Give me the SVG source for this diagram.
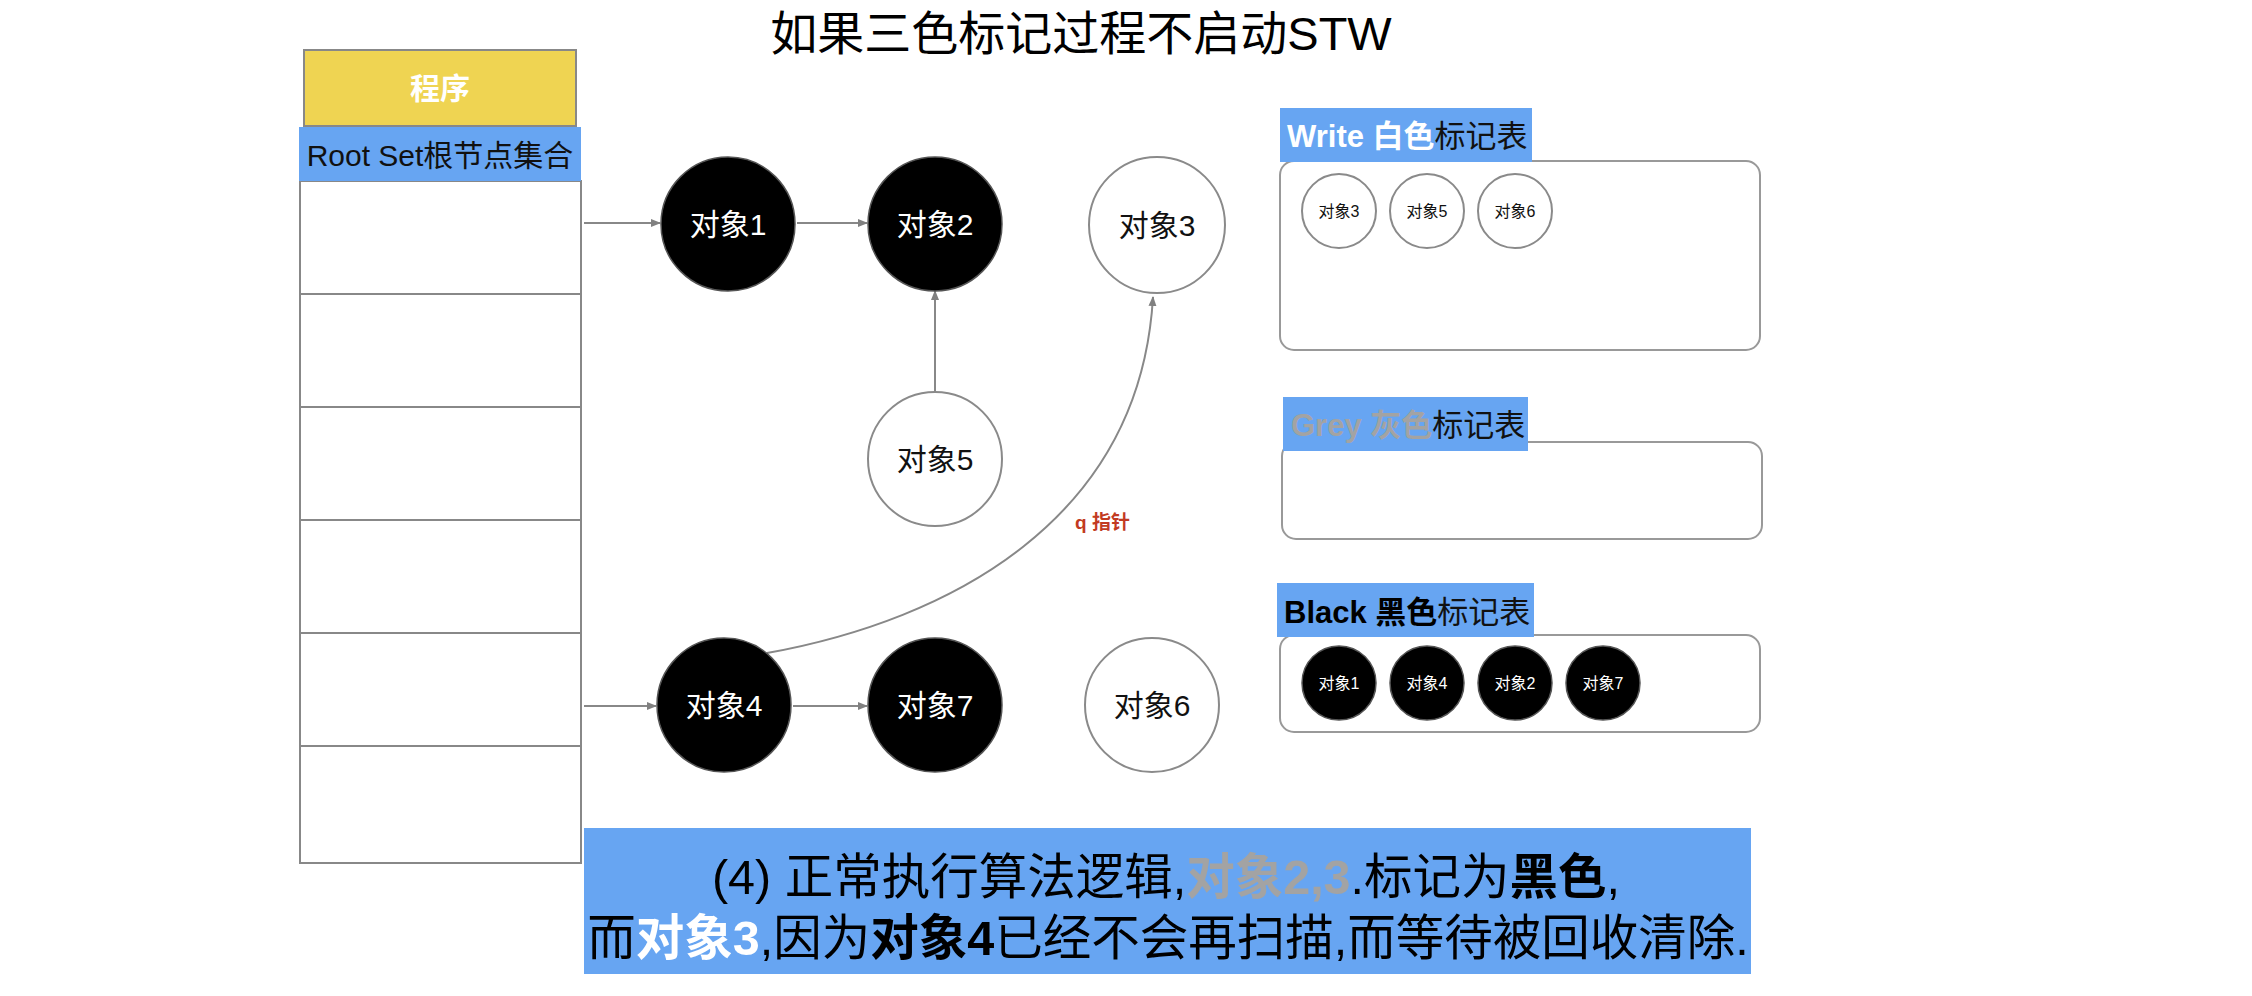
<svg xmlns="http://www.w3.org/2000/svg" width="2252" height="996" viewBox="0 0 2252 996">
<style>
text{font-family:"Liberation Sans","Noto Sans CJK SC",sans-serif}
.blk{fill:#000;stroke:#555;stroke-width:1.5}
.wht{fill:#fff;stroke:#8a8a8a;stroke-width:2}
.bt{fill:#fff;font-size:30px;text-anchor:middle}
.wt{fill:#111;font-size:30px;text-anchor:middle}
.sbt{fill:#fff;font-size:16px;text-anchor:middle}
.swt{fill:#111;font-size:16px;text-anchor:middle}
.lab{fill:#67a5f2}
.box{fill:#fff;stroke:#999;stroke-width:2}
.conn{fill:none;stroke:#888;stroke-width:2}
.b{font-weight:bold}
</style>
<defs>
<marker id="arr" markerWidth="10" markerHeight="8" refX="9" refY="4" orient="auto" markerUnits="userSpaceOnUse">
<path d="M0,0 L10,4 L0,8 Z" fill="#808080"/>
</marker>
</defs>
<rect width="2252" height="996" fill="#fff"/>
<text x="1081" y="50" font-size="47" text-anchor="middle" fill="#000">如果三色标记过程不启动STW</text>

<g id="program">
<rect x="304" y="50" width="272" height="76" fill="#efd452" stroke="#888" stroke-width="2"/>
<text x="440" y="99" font-size="30" font-weight="bold" fill="#fff" text-anchor="middle">程序</text>
</g>
<g id="rootset">
<rect x="300" y="181" width="281" height="682" fill="#fff" stroke="#888" stroke-width="2"/>
<path d="M300,294H581M300,407H581M300,520H581M300,633H581M300,746H581" stroke="#888" stroke-width="2"/>
<rect x="299" y="127" width="282" height="54" class="lab"/>
<text x="440" y="166" font-size="30" fill="#111" text-anchor="middle">Root Set根节点集合</text>
</g>

<g id="connectors">
<line x1="584" y1="223" x2="660" y2="223" class="conn" marker-end="url(#arr)"/>
<line x1="797" y1="223" x2="867" y2="223" class="conn" marker-end="url(#arr)"/>
<line x1="935" y1="391" x2="935" y2="291" class="conn" marker-end="url(#arr)"/>
<line x1="584" y1="706" x2="656" y2="706" class="conn" marker-end="url(#arr)"/>
<line x1="793" y1="706" x2="867" y2="706" class="conn" marker-end="url(#arr)"/>
<path d="M767,653 C950,620 1140,520 1153,297" class="conn" marker-end="url(#arr)"/>
<text x="1075" y="529" font-size="19" font-weight="bold" fill="#c23a22">q 指针</text>
</g>

<g id="obj1"><circle cx="728" cy="224" r="67" class="blk"/><text x="728" y="235" class="bt">对象1</text></g>
<g id="obj2"><circle cx="935" cy="224" r="67" class="blk"/><text x="935" y="235" class="bt">对象2</text></g>
<g id="obj3"><circle cx="1157" cy="225" r="68" class="wht"/><text x="1157" y="236" class="wt">对象3</text></g>
<g id="obj5"><circle cx="935" cy="459" r="67" class="wht"/><text x="935" y="470" class="wt">对象5</text></g>
<g id="obj4"><circle cx="724" cy="705" r="67" class="blk"/><text x="724" y="716" class="bt">对象4</text></g>
<g id="obj7"><circle cx="935" cy="705" r="67" class="blk"/><text x="935" y="716" class="bt">对象7</text></g>
<g id="obj6"><circle cx="1152" cy="705" r="67" class="wht"/><text x="1152" y="716" class="wt">对象6</text></g>

<g id="white-table">
<rect x="1280" y="161" width="480" height="189" rx="14" class="box"/>
<rect x="1280" y="108" width="252" height="54" class="lab"/>
<text x="1287" y="147" font-size="31"><tspan class="b" fill="#fff">Write 白色</tspan><tspan fill="#111">标记表</tspan></text>
<circle cx="1339" cy="211" r="37" class="wht"/><text x="1339" y="217" class="swt">对象3</text>
<circle cx="1427" cy="211" r="37" class="wht"/><text x="1427" y="217" class="swt">对象5</text>
<circle cx="1515" cy="211" r="37" class="wht"/><text x="1515" y="217" class="swt">对象6</text>
</g>

<g id="grey-table">
<rect x="1282" y="442" width="480" height="97" rx="14" class="box"/>
<rect x="1283" y="397" width="245" height="54" class="lab"/>
<text x="1291" y="436" font-size="31"><tspan class="b" fill="#a3a3a3">Grey 灰色</tspan><tspan fill="#111">标记表</tspan></text>
</g>

<g id="black-table">
<rect x="1280" y="635" width="480" height="97" rx="14" class="box"/>
<rect x="1277" y="583" width="257" height="54" class="lab"/>
<text x="1284" y="623" font-size="31"><tspan class="b" fill="#000">Black 黑色</tspan><tspan fill="#111">标记表</tspan></text>
<circle cx="1339" cy="683" r="37" class="blk"/><text x="1339" y="689" class="sbt">对象1</text>
<circle cx="1427" cy="683" r="37" class="blk"/><text x="1427" y="689" class="sbt">对象4</text>
<circle cx="1515" cy="683" r="37" class="blk"/><text x="1515" y="689" class="sbt">对象2</text>
<circle cx="1603" cy="683" r="37" class="blk"/><text x="1603" y="689" class="sbt">对象7</text>
</g>

<g id="caption">
<rect x="584" y="828" width="1167" height="146" fill="#67a5f2"/>
<text x="1166" y="894" font-size="48.5" text-anchor="middle" fill="#000">(4) 正常执行算法逻辑,<tspan class="b" fill="#a3a3a3">对象2,3</tspan>.标记为<tspan class="b">黑色</tspan>,</text>
<text x="1168" y="955" font-size="48.5" text-anchor="middle" fill="#000">而<tspan class="b" fill="#fff">对象3</tspan>,因为<tspan class="b">对象4</tspan>已经不会再扫描,而等待被回收清除.</text>
</g>
</svg>
